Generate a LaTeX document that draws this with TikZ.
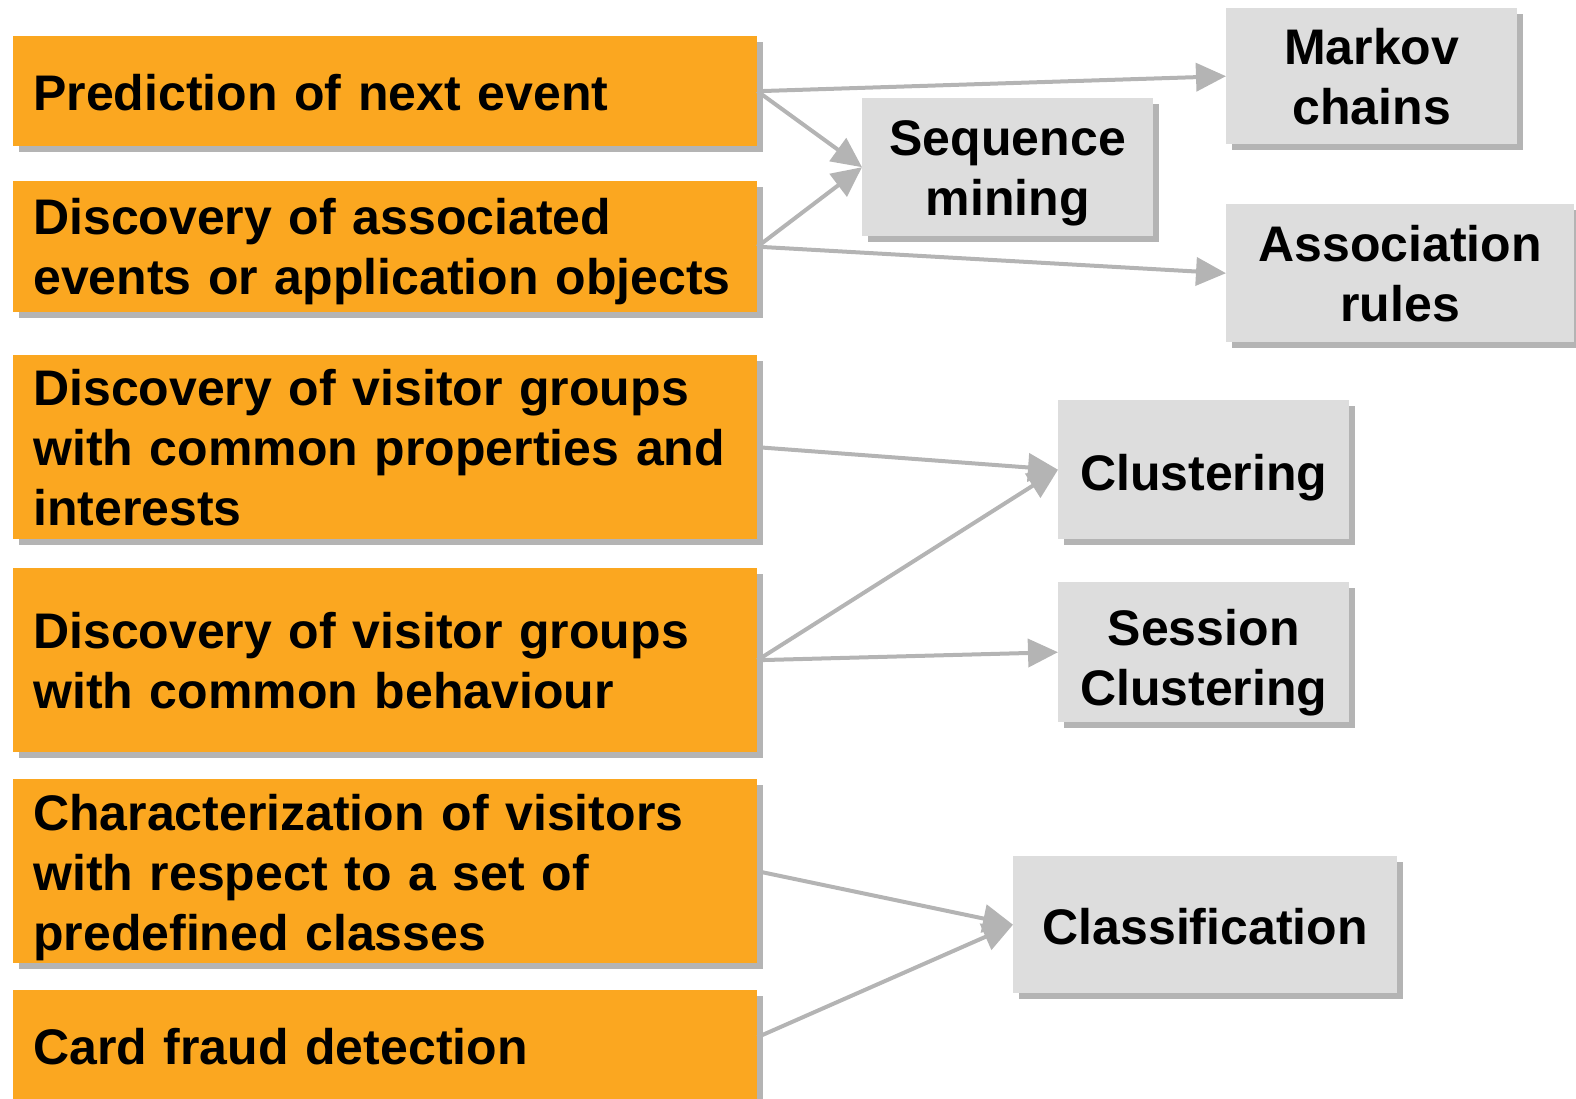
\documentclass[tikz,border=0pt]{standalone}
\usepackage{fontspec}
\setmainfont{Liberation Sans}
\usetikzlibrary{arrows.meta,shadows}
\definecolor{orng}{RGB}{251,167,32}
\definecolor{gboxc}{RGB}{221,221,221}
\definecolor{shdc}{RGB}{180,180,180}
\definecolor{arrc}{RGB}{180,180,180}
\begin{document}
\begin{tikzpicture}[x=1pt,y=-1pt,
  shdw/.style={drop shadow={shadow xshift=6pt,shadow yshift=-6pt,fill=shdc,opacity=1}},
  txt/.style={font=\fontsize{50}{60}\selectfont\bfseries,inner sep=0pt},
  otxt/.style={txt,align=left,text width=704pt},
  gtxt/.style={txt,align=center},
  obox/.style={shdw,fill=orng,anchor=north west,inner sep=0pt,minimum width=744pt},
  gbox/.style={shdw,fill=gboxc,anchor=north west,inner sep=0pt},
  conn/.style={draw=arrc,line width=4pt,-{Triangle[length=30pt,width=28pt]}}]
\useasboundingbox (0,0) rectangle (1576,1099);
% left boxes
\node[obox,minimum height=110pt] (b1) at (13,36) {};
\node[obox,minimum height=131pt] (b2) at (13,181) {};
\node[obox,minimum height=184pt] (b3) at (13,355) {};
\node[obox,minimum height=184pt] (b4) at (13,568) {};
\node[obox,minimum height=184pt] (b5) at (13,779) {};
\fill[orng,shdw] (13,1080) rectangle (757,1130);
\node[obox,minimum height=106pt] (b6) at (13,990) {};
\fill[orng] (13,1070) rectangle (757,1130);
\node[otxt] (t1) at ([yshift=-1pt]b1.center) {Prediction of next event};
\node[otxt] (t2) at ([yshift=-5pt]b2.center) {Discovery of associated\\events or application objects};
\node[otxt] (t3) at (b3.center) {Discovery of visitor groups\\with common properties and\\interests};
\node[otxt] (t4) at (b4.center) {Discovery of visitor groups\\with common behaviour};
\node[otxt] (t5) at ([yshift=-6pt]b5.center) {Characterization of visitors\\with respect to a set of\\predefined classes};
\node[otxt] (t6) at ([yshift=-3pt]b6.center) {Card fraud detection};
% right boxes
\node[gbox,minimum width=291pt,minimum height=136pt] (mk) at (1226,8) {};
\node[gbox,minimum width=291pt,minimum height=138pt] (sq) at (862,98) {};
\node[gbox,minimum width=348pt,minimum height=138pt] (as) at (1226,204) {};
\node[gbox,minimum width=291pt,minimum height=139pt] (cl) at (1058,400) {};
\node[gbox,minimum width=291pt,minimum height=140pt] (sc) at (1058,582) {};
\node[gbox,minimum width=384pt,minimum height=137pt] (cf) at (1013,856) {};
\node[gtxt] (tmk) at (mk.center) {Markov\\chains};
\node[gtxt] (tsq) at ([yshift=-6pt]sq.center) {Sequence\\mining};
\node[gtxt] (tas) at (as.center) {Association\\rules};
\node[gtxt] (tcl) at ([yshift=-8pt]cl.center) {Clustering};
\node[gtxt] (tsc) at ([yshift=-10pt]sc.center) {Session\\Clustering};
\node[gtxt] (tcf) at ([yshift=-2pt]cf.center) {Classification};
% connectors
\draw[conn] (b1.east) -- (mk.west);
\draw[conn] (b1.east) -- (sq.west);
\draw[conn] (b2.east) -- (sq.west);
\draw[conn] (b2.east) -- (as.west);
\draw[conn] (b3.east) -- (cl.west);
\draw[conn] (b4.east) -- (cl.west);
\draw[conn] (b4.east) -- (sc.west);
\draw[conn] (b5.east) -- (cf.west);
\draw[conn] ([yshift=6pt]b6.east) -- (cf.west);
\end{tikzpicture}
\end{document}
